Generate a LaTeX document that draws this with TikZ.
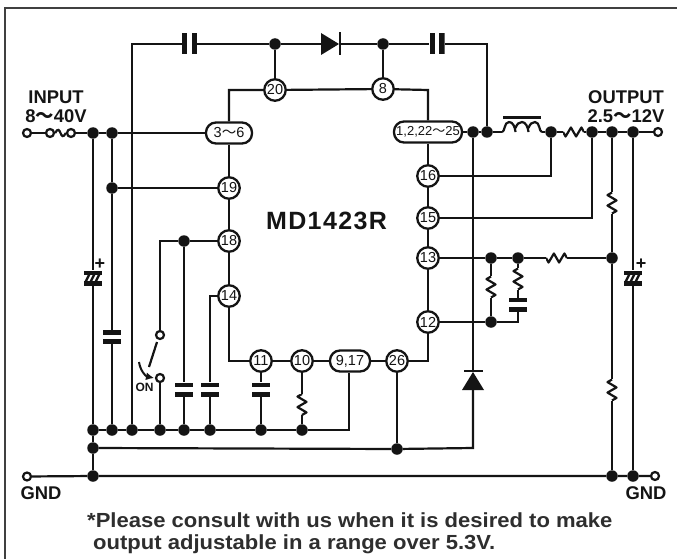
\documentclass[tikz,border=0pt]{standalone}
\usepackage{fontspec}
\setmainfont{Liberation Sans}
\newfontfamily\cjk{Noto Sans CJK JP}
\newfontfamily\titlefont[LetterSpace=5.5,BoldFont={Liberation Sans Bold}]{Liberation Sans}
\newfontfamily\notefont[FakeStretch=1.08,BoldFont={Liberation Sans Bold},BoldFeatures={FakeStretch=1.08}]{Liberation Sans}
\usetikzlibrary{arrows.meta,backgrounds}
\definecolor{ink}{HTML}{141414}
\def\PB{path picture bounding box}
\newcommand{\wv}{{\cjk ～}}
\tikzset{
  wire/.style={line width=2.2pt,draw=ink,line join=miter},
  pin/.style={circle,draw=ink,line width=2.3pt,fill=white,minimum size=21.5pt,inner sep=0pt,text=ink,font=\fontsize{14.5}{15}\selectfont},
  pill/.style={rounded corners=10pt,draw=ink,line width=2.3pt,fill=white,minimum height=21pt,inner sep=0pt,text=ink,font=\fontsize{14.5}{15}\selectfont},
  dot/.style={circle,fill=ink,minimum size=11.5pt,inner sep=0pt},
  term/.style={circle,draw=ink,line width=2.2pt,fill=white,minimum size=8pt,inner sep=0pt},
  lbl/.style={font=\bfseries\fontsize{18.4}{18}\selectfont,text=ink,inner sep=0pt},
  note/.style={font=\notefont\bfseries\fontsize{20.4}{20}\selectfont,text=black!82,inner sep=0pt,anchor=west},
  capV/.style={minimum width=18.5pt,minimum height=14pt,inner sep=0pt,path picture={
    \fill[ink] ([shift={(-9.25pt,-7pt)}]\PB.center) rectangle ([shift={(9.25pt,-2.2pt)}]\PB.center);
    \fill[ink] ([shift={(-9.25pt,7pt)}]\PB.center) rectangle ([shift={(9.25pt,2.2pt)}]\PB.center);}},
  capH/.style={minimum width=15pt,minimum height=21pt,inner sep=0pt,path picture={
    \fill[ink] ([shift={(-7.5pt,-10.5pt)}]\PB.center) rectangle ([shift={(-2.4pt,10.5pt)}]\PB.center);
    \fill[ink] ([shift={(7.5pt,-10.5pt)}]\PB.center) rectangle ([shift={(2.4pt,10.5pt)}]\PB.center);}},
  polar/.style={minimum width=18pt,minimum height=15pt,inner sep=0pt,path picture={
    \fill[ink] ([shift={(-9pt,-7.5pt)}]\PB.center) rectangle ([shift={(9pt,-3pt)}]\PB.center);
    \fill[ink] ([shift={(-9pt,7.5pt)}]\PB.center) rectangle ([shift={(9pt,3pt)}]\PB.center);
    \foreach \q in {-5.5,-0.5,4.5}{\draw[ink,line width=2.4pt] ([shift={(\q pt-2pt,-4pt)}]\PB.center) -- ([shift={(\q pt+2pt,4pt)}]\PB.center);}}},
  resV/.style={minimum width=14pt,minimum height=21pt,inner sep=0pt,path picture={
    \draw[ink,line width=2.2pt,line join=round] ([shift={(0pt,-10.5pt)}]\PB.center) -- ([shift={(4.5pt,-7.9pt)}]\PB.center) -- ([shift={(-4.5pt,-2.6pt)}]\PB.center) -- ([shift={(4.5pt,2.6pt)}]\PB.center) -- ([shift={(-4.5pt,7.9pt)}]\PB.center) -- ([shift={(0pt,10.5pt)}]\PB.center);}},
  resH/.style={minimum width=21pt,minimum height=14pt,inner sep=0pt,path picture={
    \draw[ink,line width=2.2pt,line join=round] ([shift={(-10.5pt,0pt)}]\PB.center) -- ([shift={(-7.9pt,-4.5pt)}]\PB.center) -- ([shift={(-2.6pt,4.5pt)}]\PB.center) -- ([shift={(2.6pt,-4.5pt)}]\PB.center) -- ([shift={(7.9pt,4.5pt)}]\PB.center) -- ([shift={(10.5pt,0pt)}]\PB.center);}},
  coil/.style={minimum width=40pt,minimum height=32pt,inner sep=0pt,path picture={
    \draw[ink,line width=2.4pt] ([shift={(-19pt,14.5pt)}]\PB.center) -- ([shift={(19pt,14.5pt)}]\PB.center);
    \draw[ink,line width=2.2pt] ([shift={(-20pt,0pt)}]\PB.center)
      .. controls ([shift={(-17pt,0pt)}]\PB.center) and ([shift={(-18pt,10pt)}]\PB.center) .. ([shift={(-13pt,10pt)}]\PB.center)
      .. controls ([shift={(-9pt,10pt)}]\PB.center) and ([shift={(-7pt,5pt)}]\PB.center) .. ([shift={(-6.5pt,0pt)}]\PB.center)
      ([shift={(-6.5pt,4pt)}]\PB.center)
      .. controls ([shift={(-5pt,8pt)}]\PB.center) and ([shift={(-3pt,10pt)}]\PB.center) .. ([shift={(0pt,10pt)}]\PB.center)
      .. controls ([shift={(3.5pt,10pt)}]\PB.center) and ([shift={(6pt,5pt)}]\PB.center) .. ([shift={(6.5pt,0pt)}]\PB.center)
      ([shift={(6.5pt,4pt)}]\PB.center)
      .. controls ([shift={(8pt,8pt)}]\PB.center) and ([shift={(10pt,10pt)}]\PB.center) .. ([shift={(13pt,10pt)}]\PB.center)
      .. controls ([shift={(18pt,10pt)}]\PB.center) and ([shift={(17pt,0pt)}]\PB.center) .. ([shift={(20pt,0pt)}]\PB.center);}},
  diodeR/.style={minimum width=20pt,minimum height=23pt,inner sep=0pt,path picture={
    \fill[ink] ([shift={(-10pt,-11pt)}]\PB.center) -- ([shift={(8pt,0pt)}]\PB.center) -- ([shift={(-10pt,11pt)}]\PB.center) -- cycle;
    \fill[ink] ([shift={(8pt,-11.5pt)}]\PB.center) rectangle ([shift={(10pt,11.5pt)}]\PB.center);}},
  diodeU/.style={minimum width=23pt,minimum height=20pt,inner sep=0pt,path picture={
    \fill[ink] ([shift={(-11pt,-10pt)}]\PB.center) -- ([shift={(0pt,8pt)}]\PB.center) -- ([shift={(11pt,-10pt)}]\PB.center) -- cycle;
    \fill[ink] ([shift={(-9.5pt,10pt)}]\PB.center) rectangle ([shift={(9.5pt,8pt)}]\PB.center);}},
}
\begin{document}
\begin{tikzpicture}[x=1pt,y=-1pt]
\useasboundingbox (0,0) rectangle (677,559);
\fill[white] (0,0) rectangle (677,559);
% frame
\coordinate (fa) at (5,559); \coordinate (fb) at (5,8); \coordinate (fc) at (677,8);
\draw[line width=1.6pt,draw=black!75] (fa) -- (fb) -- (fc);

% pins
\node[pin] (p20) at (275,90) {20};
\node[pin] (p8) at (383,89) {8};
\node[pill,minimum width=46pt] (p36) at (229,133) {3\wv6};
\node[pin] (p19) at (229,188) {19};
\node[pin] (p18) at (229,241) {18};
\node[pin] (p14) at (229,296) {14};
\node[pin] (p11) at (261,361) {11};
\node[pin] (p10) at (302,361) {10};
\node[pill,minimum width=40pt] (p917) at (350,361) {9,17};
\node[pin] (p26) at (397,361) {26};
\node[pin] (p12) at (428,322) {12};
\node[pin] (p13) at (428,258) {13};
\node[pin] (p15) at (428,218) {15};
\node[pin] (p16) at (428,176) {16};
\node[pill,minimum width=68pt] (p1) at (428,132) {\fontsize{13}{13}\selectfont 1,2,22\wv 25};
\node[font=\titlefont\bfseries\fontsize{25}{25}\selectfont,text=ink,inner sep=0pt] (title) at (326.5,221) {MD1423R};

% corners
\coordinate (tl) at (229,90); \coordinate (tr) at (428,90);
\coordinate (bl) at (229,361); \coordinate (br) at (428,361);
\coordinate (n132) at (132,44); \coordinate (n487) at (487,44);
\coordinate (n160) at (160,241); \coordinate (n349) at (349,430);
\coordinate (e473) at (473,448); \coordinate (n210) at (210,296);
\coordinate (n518) at (518,322);

% junctions
\node[term] (inT) at (27,133) {};
\node[term] (f1) at (50,133) {};
\node[term] (f2) at (71,133) {};
\node[dot] (d93a) at (93,133) {};
\node[dot] (d112a) at (112,133) {};
\node[dot] (d112b) at (112,188) {};
\node[dot] (d184t) at (184,241) {};
\node[dot] (d93b) at (93,430) {};
\node[dot] (d112c) at (112,430) {};
\node[dot] (d132) at (132,430) {};
\node[dot] (d160) at (160,430) {};
\node[dot] (d184) at (184,430) {};
\node[dot] (d210) at (210,430) {};
\node[dot] (d261) at (261,430) {};
\node[dot] (d302) at (302,430) {};
\node[dot] (d93c) at (93,448) {};
\node[dot] (d397) at (397,449) {};
\node[dot] (d93d) at (93,476) {};
\node[dot] (d612b) at (612,476) {};
\node[dot] (d633b) at (633,476) {};
\node[term] (gndL) at (27,476.5) {};
\node[term] (gndR) at (655,476) {};
\node[dot] (dt275) at (275,44) {};
\node[dot] (dt383) at (383,44) {};
\node[dot] (d473) at (473,132) {};
\node[dot] (d487) at (487,132) {};
\node[dot] (d551) at (551,132) {};
\node[dot] (d592) at (592,132) {};
\node[dot] (d612) at (612,132) {};
\node[dot] (d633) at (633,132) {};
\node[term] (outT) at (658,132) {};
\node[dot] (d612m) at (612,258) {};
\node[dot] (d491) at (491,258) {};
\node[dot] (d518) at (518,258) {};
\node[dot] (d491b) at (491,322) {};

% components
\node[capH] (C1) at (189.5,44) {};
\node[capH] (C2) at (437,44) {};
\node[diodeR] (D1) at (331,44) {};
\node[diodeU] (D2) at (473,380) {};
\node[coil] (L1) at (522,132) {};
\node[resH] (R1) at (573.5,132) {};
\node[resH] (R2) at (556.5,258) {};
\node[resV] (R3) at (612,203) {};
\node[resV] (R4) at (612,390) {};
\node[resV] (R5) at (491,287) {};
\node[resV] (R6) at (518,279) {};
\node[resV] (R7) at (302,404.5) {};
\node[capV] (C3) at (112,337) {};
\node[capV] (C4) at (184,389.5) {};
\node[capV] (C5) at (210,389.5) {};
\node[capV] (C6) at (261,389.5) {};
\node[capV,minimum height=13pt] (C7) at (518,304.5) {};
\node[polar] (C8) at (93,278) {};
\node[polar] (C9) at (633,278) {};
\node[term] (s1) at (160,335) {};
\node[term] (s2) at (160,378) {};
\coordinate (b1) at (157,342); \coordinate (b2) at (149,367);
\coordinate (a1) at (139,362); \coordinate (a2) at (154,378);

% IC outline
\draw[wire] (p36) -- (tl) -- (p20) -- (p8) -- (tr) -- (p1);
\draw[wire] (p36) -- (p19) -- (p18) -- (p14) -- (bl) -- (p11) -- (p10) -- (p917) -- (p26) -- (br) -- (p12) -- (p13) -- (p15) -- (p16) -- (p1);
% top rail
\draw[wire] (d132) -- (n132) -- (C1) -- (dt275) -- (D1) -- (dt383) -- (C2) -- (n487) -- (d487);
\draw[wire] (dt275) -- (p20);
\draw[wire] (dt383) -- (p8);
% input
\draw[wire] (inT) -- (f1);
\draw[wire] (f1.east) .. controls +(6,-11) and +(-6,11) .. (f2.west);
\draw[wire] (f2) -- (d93a) -- (d112a) -- (p36);
\draw[wire] (d112b) -- (p19);
\draw[wire] (d93a) -- (C8) -- (d93b) -- (d93c) -- (d93d);
\draw[wire] (d112a) -- (d112b) -- (C3) -- (d112c);
% pin 18 and switch
\draw[wire] (p18) -- (d184t) -- (n160) -- (s1);
\draw[wire] (s2) -- (d160);
\draw[wire] (b1) -- (b2);
\draw[line width=2pt,draw=ink,-{Latex[length=8pt,width=8pt]}] (a1) to[bend right=35] (a2);
\node[font=\bfseries\fontsize{12}{12}\selectfont,text=ink,inner sep=0pt] (onl) at (144.5,387) {ON};
\draw[wire] (d184t) -- (C4) -- (d184);
\draw[wire] (p14) -- (n210) -- (C5) -- (d210);
\draw[wire] (p11) -- (C6) -- (d261);
\draw[wire] (p10) -- (R7) -- (d302);
% bus
\draw[wire] (d93b) -- (d112c) -- (d132) -- (d160) -- (d184) -- (d210) -- (d261) -- (d302) -- (n349) -- (n349 |- p917.south);
\draw[wire] (d93c) -- (d397) -- (e473) -- (D2);
\draw[wire] (p26) -- (d397);
\draw[wire] (D2) -- (d473);
\draw[wire] (gndL) -- (d93d) -- (d612b) -- (d633b) -- (gndR);
% output
\draw[wire] (p1) -- (d473) -- (d487) -- (L1) -- (d551) -- (R1) -- (d592) -- (d612) -- (d633) -- (outT);
\draw[wire] (d551) |- (p16);
\draw[wire] (d592) |- (p15);
\draw[wire] (d612) -- (R3) -- (d612m) -- (R4) -- (d612b);
\draw[wire] (d633) -- (C9) -- (d633b);
\draw[wire] (p13) -- (d491) -- (d518) -- (R2) -- (d612m);
\draw[wire] (d491) -- (R5) -- (d491b);
\draw[wire] (d518) -- (R6) -- (C7) -- (n518) -- (d491b) -- (p12);
% plus marks
\node[font=\bfseries\fontsize{18}{18}\selectfont,text=ink,inner sep=0pt] (plusL) at (100,264) {+};
\node[font=\bfseries\fontsize{18}{18}\selectfont,text=ink,inner sep=0pt] (plusR) at (641,264) {+};
% labels
\node[lbl] (t1) at (56,97) {INPUT};
\node[lbl] (t2) at (56,116) {8\wv40V};
\node[lbl] (t3) at (626,97) {OUTPUT};
\node[lbl] (t4) at (626,116) {2.5\wv12V};
\node[lbl] (t5) at (41,493) {GND};
\node[lbl] (t6) at (646,493) {GND};
\node[note] (n1) at (87,520) {*Please consult with us when it is desired to make};
\node[note] (n2) at (93,544) {output adjustable in a range over 5.3V.};
\end{tikzpicture}
\end{document}
